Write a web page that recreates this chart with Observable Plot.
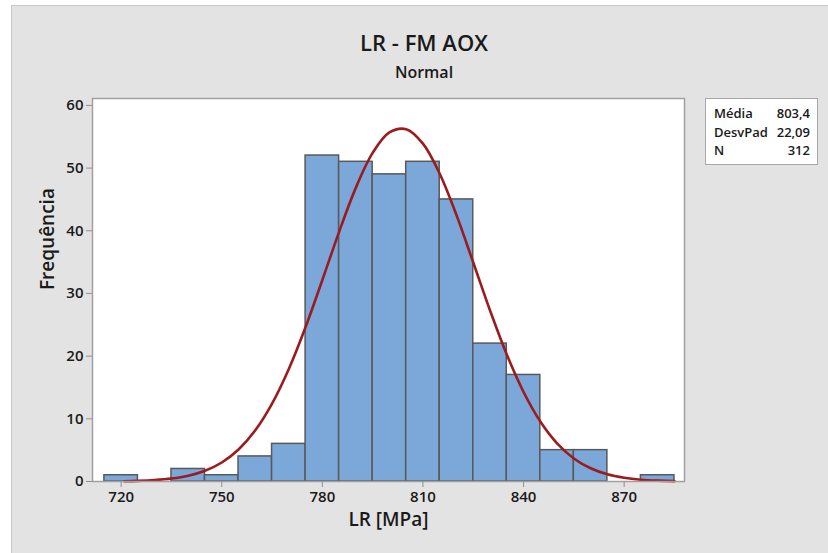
<!DOCTYPE html>
<html>
<head>
<meta charset="utf-8">
<script src="https://cdn.jsdelivr.net/npm/d3@7"></script>
<script src="https://cdn.jsdelivr.net/npm/@observablehq/plot@0.6"></script>
<style>
  html, body { margin: 0; padding: 0; background: #ffffff; }
  #wrap { position: relative; width: 828px; height: 553px; overflow: hidden; font-family: "Open Sans", sans-serif; color: #1a1a1a; }
  #panel { position: absolute; left: 11px; top: 5px; right: 0; bottom: 0; background: #e3e3e3; border-left: 1px solid #c8c8c8; border-top: 1px solid #c8c8c8; }
  #chart { position: absolute; left: 0; top: 0; }
  .title { position: absolute; left: 0; width: 848px; text-align: center; font-weight: 600; }
  #legend { position: absolute; left: 705px; top: 98px; width: 111px; height: 65px; background: #fff; border: 1px solid #a8a8a8; font-size: 13px; font-weight: 600; }
  #legend .row { position: absolute; left: 8px; right: 7px; height: 18px; }
  #legend .row span.v { position: absolute; right: 0; }
</style>
</head>
<body>
<div id="wrap">
  <div id="panel"></div>
  <div id="chart"></div>
  <div class="title" style="top:27px;font-size:22px;">LR - FM AOX</div>
  <div class="title" style="top:61px;font-size:16px;">Normal</div>
  <div id="legend"></div>
</div>
<script>
// Histogram bins (lower edge of each 10 MPa bin) and counts
const binLower = [715, 725, 735, 745, 755, 765, 775, 785, 795, 805, 815, 825, 835, 845, 855, 865, 875];
const counts   = [1,   0,   2,   1,   4,   6,   52,  51,  49,  51,  45,  22,  17,  5,   5,   0,   1];
const binWidth = 10;

// Fitted normal curve
const curveX = [721, 725, 730, 735, 740, 745, 750, 755, 760, 765, 770, 775, 780, 785, 790, 795, 800, 805, 810, 815, 820, 825, 830, 835, 840, 845, 850, 855, 860, 865, 870, 875, 880, 885];
const curveY = [0.05, 0.10, 0.23, 0.47, 0.92, 1.71, 3.03, 5.11, 8.18, 12.44, 17.96, 24.65, 32.15, 39.83, 46.88, 52.42, 55.69, 56.20, 53.89, 49.09, 42.49, 34.94, 27.29, 20.25, 14.28, 9.57, 6.09, 3.68, 2.11, 1.15, 0.60, 0.29, 0.14, 0.06];

const xTicks = [720, 750, 780, 810, 840, 870];
const yTicks = [0, 10, 20, 30, 40, 50, 60];

const legendLabels = ["Média", "DesvPad", "N"];
const legendValues = ["803,4", "22,09", "312"];

const bins = binLower.map((lo, i) => ({x1: lo, x2: lo + binWidth, y: counts[i]})).filter(d => d.y > 0);
const curve = curveX.map((x, i) => ({x, y: curveY[i]}));

const chart = Plot.plot({
  width: 828,
  height: 553,
  marginLeft: 92,
  marginRight: 144,
  marginTop: 98,
  marginBottom: 72,
  style: {background: "transparent", fontFamily: "Open Sans, sans-serif", fontSize: "15px", fontWeight: 600, color: "#1a1a1a"},
  x: {domain: [711.45, 888], ticks: xTicks, tickSize: 6, label: null},
  y: {domain: [0, 61.1], ticks: yTicks, tickSize: 6, label: null},
  marks: [
    Plot.frame({fill: "white", stroke: "none"}),
    Plot.rectY(bins, {x1: "x1", x2: "x2", y: "y", fill: "#7BA7D9", stroke: "#595959", strokeWidth: 1.5, inset: 0}),
    Plot.line(curve, {x: "x", y: "y", stroke: "#9B1B1E", strokeWidth: 2.6, curve: "catmull-rom"}),
    Plot.frame({stroke: "#a0a0a0", strokeWidth: 1.5}),
    Plot.axisX({ticks: xTicks, tickSize: 6, stroke: "#909090", tickPadding: 4, label: null, fill: "#1a1a1a"}),
    Plot.axisY({ticks: yTicks, tickSize: 6, stroke: "#909090", tickPadding: 3, label: null, fill: "#1a1a1a"}),
    Plot.text(["LR [MPa]"], {frameAnchor: "bottom", dy: 44, fontSize: 19, fontWeight: 600, fill: "#1a1a1a"}),
    Plot.text(["Frequência"], {frameAnchor: "left", dx: -45, rotate: -90, fontSize: 19, fontWeight: 600, fill: "#1a1a1a"})
  ]
});
document.getElementById("chart").appendChild(chart);

const legend = document.getElementById("legend");
legendLabels.forEach((lab, i) => {
  const row = document.createElement("div");
  row.className = "row";
  row.style.top = (5 + i * 18.5) + "px";
  row.innerHTML = `<span>${lab}</span><span class="v">${legendValues[i]}</span>`;
  legend.appendChild(row);
});
</script>
</body>
</html>
